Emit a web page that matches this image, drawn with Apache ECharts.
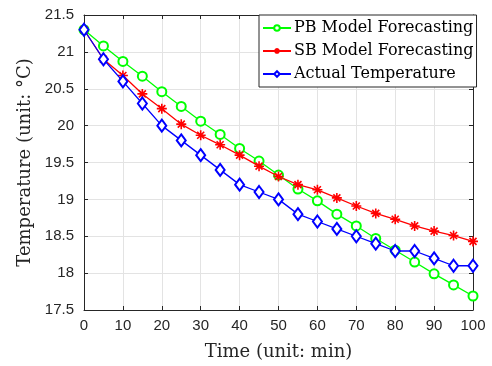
<!DOCTYPE html>
<html><head><meta charset="utf-8">
<script src="https://cdn.jsdelivr.net/npm/echarts@6/dist/echarts.min.js"></script>
<style>html,body{margin:0;padding:0;background:#fff}#c{width:492px;height:366px}</style>
</head><body><div id="c"></div>
<script>
const times = [0,5,10,15,20,25,30,35,40,45,50,55,60,65,70,75,80,85,90,95,100];
const pbModel = [21.3,21.08,20.87,20.67,20.46,20.26,20.06,19.88,19.69,19.52,19.33,19.14,18.98,18.80,18.64,18.47,18.31,18.15,17.99,17.84,17.69];
const sbModel = [21.3,20.90,20.68,20.43,20.23,20.02,19.87,19.74,19.60,19.45,19.31,19.20,19.13,19.02,18.91,18.81,18.73,18.64,18.57,18.51,18.43];
const actual = [21.3,20.9,20.6,20.3,20.0,19.8,19.6,19.4,19.2,19.1,19.0,18.8,18.7,18.6,18.5,18.4,18.3,18.3,18.2,18.1,18.1];
const seriesNames = ['PB Model Forecasting','SB Model Forecasting','Actual Temperature'];
const xTitle = 'Time (unit: min)';
const yTitle = 'Temperature (unit: °C)';

const pair = (arr) => times.map((t,i)=>[t,arr[i]]);
const axisCol = '#262626';
const asterisk = 'path://M0,5L10,5M5,0L5,10M1.5,1.5L8.5,8.5M8.5,1.5L1.5,8.5';
const chart = echarts.init(document.getElementById('c'));
const baseX = {type:'value',min:0,max:100,interval:10,
  axisLine:{show:true,onZero:false,lineStyle:{color:axisCol,width:1}},
  axisTick:{show:true,inside:true,length:4,lineStyle:{color:axisCol}},
  splitLine:{show:false}};
const baseY = {type:'value',min:17.5,max:21.5,interval:0.5,
  axisLine:{show:true,onZero:false,lineStyle:{color:axisCol,width:1}},
  axisTick:{show:true,inside:true,length:4,lineStyle:{color:axisCol}},
  splitLine:{show:false}};
chart.setOption({
  animation:false,
  backgroundColor:'#fff',
  grid:{left:84,right:19,top:15,bottom:53,containLabel:false},
  xAxis:[
    Object.assign({},baseX,{position:'bottom',
      axisLabel:{color:axisCol,fontFamily:'Liberation Sans',fontSize:15,margin:8},
      splitLine:{show:true,lineStyle:{color:'#e3e3e3',width:1}},
      name:xTitle,nameLocation:'middle',nameGap:33,
      nameTextStyle:{fontFamily:'DejaVu Serif',fontSize:18,color:axisCol}}),
    Object.assign({},baseX,{position:'top',axisLabel:{show:false}})
  ],
  yAxis:[
    Object.assign({},baseY,{position:'left',
      axisLabel:{color:axisCol,fontFamily:'Liberation Sans',fontSize:15,margin:10,
        formatter:v=>String(+v.toFixed(1))},
      splitLine:{show:true,lineStyle:{color:'#e3e3e3',width:1}},
      name:yTitle,nameLocation:'middle',nameGap:49,
      nameTextStyle:{fontFamily:'DejaVu Serif',fontSize:18,color:axisCol}}),
    Object.assign({},baseY,{position:'right',axisLabel:{show:false}})
  ],
  legend:{
    left:259,top:15,orient:'vertical',
    backgroundColor:'#fff',borderColor:axisCol,borderWidth:1,borderRadius:0,
    padding:[5,3,5,3],itemGap:7,itemWidth:28,itemHeight:7,
    textStyle:{fontFamily:'DejaVu Serif',fontSize:16,color:'#000',padding:[0,0,0,-2]},
    data:seriesNames
  },
  series:[
    {name:seriesNames[0],type:'line',data:pair(pbModel),symbol:'emptyCircle',symbolSize:9,
      lineStyle:{color:'#00ff00',width:1.3},itemStyle:{color:'#00ff00',borderColor:'#00ff00',borderWidth:1.3},z:3},
    {name:seriesNames[1],type:'line',data:pair(sbModel),symbol:asterisk,symbolSize:10,
      lineStyle:{color:'#ff0000',width:1.3},itemStyle:{color:'none',borderColor:'#ff0000',borderWidth:1.6},z:4},
    {name:seriesNames[2],type:'line',data:pair(actual),symbol:'emptyDiamond',symbolSize:[9,12],
      lineStyle:{color:'#0000ff',width:1.3},itemStyle:{color:'#0000ff',borderColor:'#0000ff',borderWidth:1.3},z:5}
  ]
});
</script></body></html>
